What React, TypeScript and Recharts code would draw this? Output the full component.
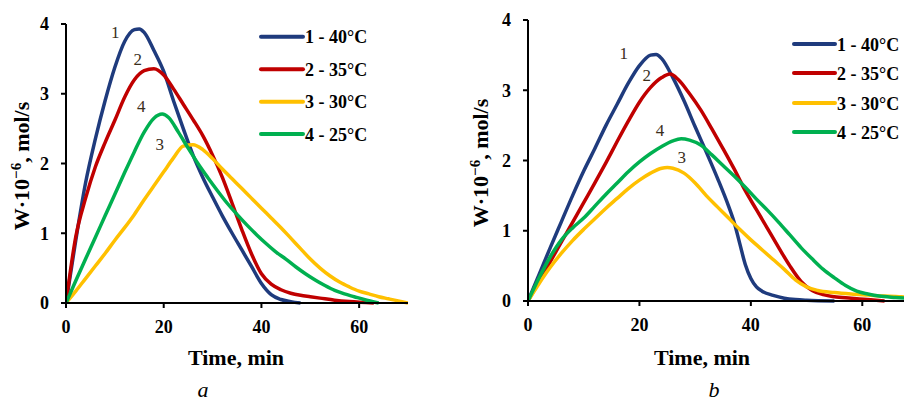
import React from 'react';
import { LineChart, Line, XAxis, YAxis, Legend, ReferenceDot } from 'recharts';

const FONT = '"Liberation Serif", "Times New Roman", serif';

// ---------- shared labels ----------
const xTicks = [0, 20, 40, 60];
const yTicks = [0, 1, 2, 3, 4];
const seriesNames = ['1 - 40°C', '2 - 35°C', '3 - 30°C', '4 - 25°C'];
const seriesColors = ['#1f3b7d', '#c00000', '#ffc000', '#00b050'];
const curveNumbers = ['1', '2', '3', '4'];
const xTitle = 'Time, min';
const panelCaptions = ['a', 'b'];

// ---------- panel a : [time, W] ----------
const a40 = [[0,0],[2,0.9],[4,1.72],[6,2.35],[8,2.9],[10,3.38],[12,3.75],[14,3.92],[15,3.93],[16,3.88],[18,3.62],[20,3.32],[22,2.9],[24,2.5],[26,2.12],[28,1.8],[30,1.52],[32,1.25],[34,1.0],[36,0.76],[38,0.52],[40,0.28],[42,0.12],[44,0.05],[46,0.02],[48,0]];
const a35 = [[0,0],[2,0.95],[4,1.5],[6,1.95],[8,2.3],[10,2.62],[12,2.95],[14,3.2],[16,3.33],[18,3.36],[20,3.27],[22,3.07],[24,2.85],[26,2.63],[28,2.4],[30,2.12],[32,1.8],[34,1.43],[36,1.05],[38,0.7],[40,0.42],[42,0.27],[44,0.19],[46,0.14],[48,0.11],[50,0.09],[52,0.07],[55,0.04],[58,0.02],[63,0]];
const a30 = [[0,0],[2,0.17],[4,0.35],[6,0.53],[8,0.71],[10,0.9],[12,1.08],[14,1.27],[16,1.48],[18,1.68],[20,1.88],[22,2.08],[24,2.25],[26,2.27],[28,2.2],[30,2.07],[32,1.92],[34,1.78],[36,1.64],[38,1.5],[40,1.36],[42,1.22],[44,1.08],[46,0.93],[48,0.78],[50,0.63],[52,0.5],[54,0.39],[56,0.3],[58,0.23],[60,0.17],[62,0.13],[64,0.09],[66,0.06],[68,0.03],[70,0]];
const a25 = [[0,0],[2,0.32],[4,0.63],[6,0.94],[8,1.25],[10,1.56],[12,1.87],[14,2.17],[16,2.45],[18,2.65],[19.7,2.71],[21,2.66],[23,2.45],[25,2.22],[27,2.0],[29,1.8],[31,1.61],[33,1.43],[35,1.27],[37,1.12],[39,0.98],[41,0.85],[43,0.73],[45,0.63],[47,0.52],[49,0.42],[51,0.33],[53,0.25],[55,0.18],[57,0.13],[59,0.09],[61,0.05],[64,0]];
// curve number annotations (time, W) for curves 1,2,3,4
const aNumberAt = [[10.1,3.88],[14.7,3.5],[19.2,2.28],[15.4,2.82]];

// ---------- panel b : [time, W] ----------
const b40 = [[0,0],[2,0.38],[4,0.76],[6,1.13],[8,1.5],[10,1.85],[12,2.17],[14,2.5],[16,2.8],[18,3.1],[20,3.35],[22,3.5],[23,3.51],[24,3.45],[26,3.18],[28,2.85],[30,2.48],[32,2.12],[34,1.75],[36,1.35],[37,1.12],[38,0.82],[39,0.52],[40,0.32],[41,0.2],[42,0.14],[44,0.08],[46,0.04],[48,0.02],[50,0.01],[55,0]];
const b35 = [[0,0],[2,0.28],[4,0.56],[6,0.84],[8,1.12],[10,1.4],[12,1.68],[14,1.97],[16,2.27],[18,2.56],[20,2.83],[22,3.04],[24,3.18],[25.5,3.23],[27,3.15],[29,2.95],[31,2.72],[33,2.45],[35,2.17],[37,1.88],[39,1.57],[41,1.3],[43,1.03],[45,0.76],[47,0.5],[49,0.28],[51,0.15],[53,0.09],[55,0.06],[58,0.04],[61,0.02],[64,0]];
const b30 = [[0,0],[2,0.25],[4,0.48],[6,0.68],[8,0.86],[10,1.02],[12,1.17],[14,1.32],[16,1.46],[18,1.6],[20,1.72],[22,1.82],[24,1.89],[25,1.9],[26,1.89],[28,1.82],[30,1.68],[32,1.5],[34,1.34],[36,1.18],[38,1.02],[40,0.87],[42,0.73],[44,0.59],[46,0.45],[48,0.3],[50,0.2],[52,0.15],[55,0.12],[58,0.1],[61,0.085],[64,0.07],[67,0.06],[70,0.05]];
const b25 = [[0,0],[2,0.33],[4,0.63],[6,0.87],[8,1.04],[10,1.18],[12,1.35],[14,1.52],[16,1.68],[18,1.84],[20,1.98],[22,2.1],[24,2.2],[26,2.28],[27.5,2.31],[29,2.29],[31,2.22],[33,2.08],[35,1.93],[37,1.78],[39,1.62],[41,1.45],[43,1.29],[45,1.12],[47,0.94],[49,0.76],[51,0.6],[53,0.45],[55,0.33],[57,0.22],[59,0.14],[61,0.1],[63,0.07],[66,0.05],[70,0.03]];
const bNumberAt = [[17.2,3.53],[21.3,3.22],[27.6,2.05],[23.7,2.43]];

const toPoints = (pairs: number[][]) => pairs.map(([t, w]) => ({ t, w }));

type PanelProps = {
  width: number;
  margin: { top: number; right: number; bottom: number; left: number };
  yAxisWidth: number;
  series: number[][][];
  numberAt: number[][];
  xTitleX: number;
  yTitleX: number;
  yTitleY: number;
  legendLeft: number;
  legendTop: number;
  legendRows: number[];
  lineEnd: number;
  textX: number;
};

const tickStyle = { fontFamily: FONT, fontSize: 18, fontWeight: 'bold', fill: '#000' };

function Panel(p: PanelProps) {
  const renderLegend = (props: any) => {
    const payload = props.payload || [];
    return (
      <svg width={170} height={130} style={{ overflow: 'visible' }}>
        {payload.map((e: any, i: number) => (
          <g key={i}>
            <line x1={6} x2={p.lineEnd} y1={p.legendRows[i]} y2={p.legendRows[i]} stroke={e.color} strokeWidth={4} strokeLinecap="round" />
            <text x={p.textX} y={p.legendRows[i] + 6.5} fontFamily={FONT} fontWeight="bold" fontSize={18} fill="#000">{e.value}</text>
          </g>
        ))}
      </svg>
    );
  };

  const renderXTitle = () => (
    <text x={p.xTitleX} y={365} textAnchor="middle" fontFamily={FONT} fontWeight="bold" fontSize={22} fill="#000">{xTitle}</text>
  );

  const renderYTitle = () => (
    <text
      x={p.yTitleX}
      y={p.yTitleY}
      transform={`rotate(-90, ${p.yTitleX}, ${p.yTitleY})`}
      textAnchor="middle"
      fontFamily={FONT}
      fontWeight="bold"
      fontSize={22}
      fill="#000"
    >
      W·10<tspan dy={-8} fontSize={15}>−6</tspan><tspan dy={8}>, mol/s</tspan>
    </text>
  );

  return (
    <LineChart width={p.width} height={401} margin={p.margin} style={{ fontFamily: FONT }}>
      <XAxis
        type="number"
        dataKey="t"
        domain={[0, 70]}
        ticks={xTicks}
        allowDataOverflow
        height={40}
        tickSize={5}
        tickMargin={12}
        tick={tickStyle}
        axisLine={{ stroke: '#000', strokeWidth: 2 }}
        tickLine={{ stroke: '#000', strokeWidth: 2 }}
        label={renderXTitle}
      />
      <YAxis
        type="number"
        dataKey="w"
        domain={[0, 4]}
        ticks={yTicks}
        width={p.yAxisWidth}
        tickSize={5}
        tickMargin={12}
        tick={tickStyle}
        axisLine={{ stroke: '#000', strokeWidth: 2 }}
        tickLine={{ stroke: '#000', strokeWidth: 2 }}
        label={renderYTitle}
      />
      <Legend
        layout="vertical"
        align="center"
        verticalAlign="middle"
        content={renderLegend}
        wrapperStyle={{ left: p.legendLeft, top: p.legendTop, width: 170, height: 130 }}
      />
      {p.series.map((s, i) => (
        <Line
          key={seriesNames[i]}
          name={seriesNames[i]}
          data={toPoints(s)}
          dataKey="w"
          type="monotone"
          stroke={seriesColors[i]}
          strokeWidth={3.5}
          dot={false}
          activeDot={false}
          isAnimationActive={false}
        />
      ))}
      {p.numberAt.map(([t, w], i) => (
        <ReferenceDot
          key={'n' + i}
          x={t}
          y={w}
          r={0}
          fill="none"
          stroke="none"
          label={{ value: curveNumbers[i], position: 'center', fontFamily: FONT, fontSize: 17, fill: '#3a2e1c' }}
        />
      ))}
    </LineChart>
  );
}

export default function App() {
  return (
    <div style={{ position: 'absolute', left: 0, top: 0, width: 904, height: 401, background: '#fff', overflow: 'hidden' }}>
      <div style={{ position: 'absolute', left: 0, top: 0, width: 450, height: 401 }}>
        <Panel
          width={450}
          margin={{ top: 24, right: 42, bottom: 58, left: 0 }}
          yAxisWidth={66}
          series={[a40, a35, a30, a25]}
          numberAt={aNumberAt}
          xTitleX={236}
          yTitleX={28.5}
          yTitleY={166}
          legendLeft={255}
          legendTop={20}
          legendRows={[16.7, 49.3, 81.7, 114]}
          lineEnd={48}
          textX={50}
        />
      </div>
      <div style={{ position: 'absolute', left: 450, top: 0, width: 454, height: 401, overflow: 'hidden' }}>
        <Panel
          width={480}
          margin={{ top: 20, right: 12, bottom: 60, left: 0 }}
          yAxisWidth={78}
          series={[b40, b35, b30, b25]}
          numberAt={bNumberAt}
          xTitleX={252}
          yTitleX={38}
          yTitleY={163}
          legendLeft={338}
          legendTop={25}
          legendRows={[19, 48, 78, 107]}
          lineEnd={47}
          textX={49}
        />
      </div>
      <div style={{ position: 'absolute', left: 0, top: 0, width: 904, height: 401, pointerEvents: 'none' }}>
        <svg width={904} height={401}>
          <text x={203} y={397} textAnchor="middle" fontFamily={FONT} fontStyle="italic" fontSize={22} fill="#000">{panelCaptions[0]}</text>
          <text x={714} y={397} textAnchor="middle" fontFamily={FONT} fontStyle="italic" fontSize={22} fill="#000">{panelCaptions[1]}</text>
        </svg>
      </div>
    </div>
  );
}
